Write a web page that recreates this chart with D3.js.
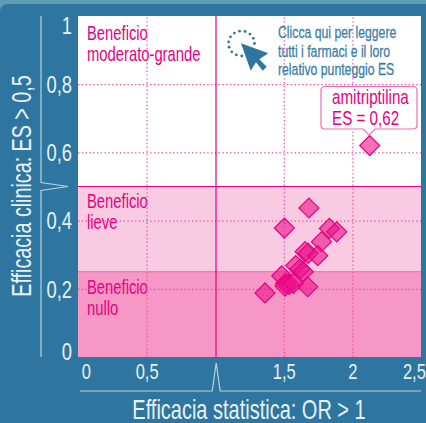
<!DOCTYPE html>
<html>
<head>
<meta charset="utf-8">
<script src="https://cdn.jsdelivr.net/npm/d3@7"></script>
<style>
  html, body { margin: 0; padding: 0; background: #5f9ab6; overflow: hidden; }
  svg { display: block; }
  text { font-family: "Liberation Sans", sans-serif; }
  .axis .domain { display: none; }
  .axis text { fill: #e8f1f5; font-size: 23px; }
  .grid line { stroke: #ee4fa5; stroke-width: 1.2; stroke-dasharray: 1.4 2.4; }
  .zone { fill: #e6007e; font-size: 20px; }
  .hint { fill: #3a7ea6; font-size: 17px; stroke: #3a7ea6; stroke-width: 0.3; }
</style>
</head>
<body>
<svg id="chart" width="426" height="423"></svg>
<script>
// Values
const xTicks = [0, 0.5, 1.5, 2, 2.5];
const yTicks = [0, 0.2, 0.4, 0.6, 0.8, 1];
const xGrid = [0.5, 1.5, 2];
const yGrid = [0.2, 0.4, 0.6, 0.8];
const drugOR = [1.683, 1.504, 1.832, 1.886, 1.774, 1.655, 1.678, 1.747, 1.587, 1.618, 1.642, 1.485, 1.674, 1.514, 1.540, 1.509, 1.570, 1.363, 2.126];
const drugES = [0.437, 0.378, 0.377, 0.367, 0.338, 0.309, 0.304, 0.297, 0.268, 0.258, 0.250, 0.238, 0.206, 0.216, 0.213, 0.208, 0.216, 0.188, 0.62];
const zoneFrom = [0.5, 0.25, 0];
const zoneTo = [1, 0.5, 0.25];
const zoneFill = ['#ffffff', '#f9cbe3', '#f797c6'];
const zoneLines = [['Beneficio', 'moderato-grande'], ['Beneficio', 'lieve'], ['Beneficio', 'nullo']];
const hintLines = ['Clicca qui per leggere', 'tutti i farmaci e il loro', 'relativo punteggio ES'];
const calloutLines = ['amitriptilina', 'ES = 0,62'];

const fmt = d => String(d).replace('.', ',');

// no condensed face is installed, so squeeze the glyphs
function narrow(sel, k) {
  sel.each(function() {
    const t = d3.select(this);
    const px = +t.attr('x') || 0;
    const py = +t.attr('y') || 0;
    const old = t.attr('transform') || '';
    t.attr('x', 0).attr('y', 0).attr('transform', `${old} translate(${px},${py}) scale(${k},1)`);
  });
  return sel;
}

const svg = d3.select('#chart');
const x = d3.scaleLinear().domain([0, 2.5]).range([78, 421]);
const y = d3.scaleLinear().domain([0, 1]).range([357, 16]);

// panel, only the top left corner is rounded
svg.append('rect').attr('x', 0).attr('y', 4).attr('width', 60).attr('height', 60).attr('rx', 8).attr('fill', '#2e769f');
svg.append('rect').attr('x', 20).attr('y', 4).attr('width', 406).attr('height', 419).attr('fill', '#2e769f');
svg.append('rect').attr('x', 0).attr('y', 20).attr('width', 426).attr('height', 403).attr('fill', '#2e769f');

// zones
svg.selectAll('.band').data(zoneFrom).enter().append('rect')
  .attr('class', 'band')
  .attr('x', x(0)).attr('width', x(2.5) - x(0))
  .attr('y', (d, i) => y(zoneTo[i]))
  .attr('height', (d, i) => y(d) - y(zoneTo[i]))
  .attr('fill', (d, i) => zoneFill[i]);

// zone labels
const zoneTop = [40, 208, 294];
zoneLines.forEach((lines, i) => {
  lines.forEach((t, j) => {
    narrow(svg.append('text').attr('class', 'zone').attr('x', 87).attr('y', zoneTop[i] + j * 21).text(t), 0.74);
  });
});

// dotted grid through the library axes
svg.append('g').attr('class', 'grid').attr('transform', `translate(0,${y(0)})`)
  .call(d3.axisBottom(x).tickValues(xGrid).tickSize(-(y(0) - y(1))).tickFormat(''))
  .select('.domain').remove();
svg.append('g').attr('class', 'grid').attr('transform', `translate(${x(0)},0)`)
  .call(d3.axisLeft(y).tickValues(yGrid).tickSize(-(x(2.5) - x(0))).tickFormat(''))
  .select('.domain').remove();

// zone limits
svg.append('line').attr('x1', x(0)).attr('x2', x(2.5)).attr('y1', y(0.5)).attr('y2', y(0.5)).attr('stroke', '#e6007e').attr('stroke-width', 1.2);
svg.append('line').attr('x1', x(0)).attr('x2', x(2.5)).attr('y1', y(0.25)).attr('y2', y(0.25)).attr('stroke', '#f06cb0').attr('stroke-width', 1);
svg.append('line').attr('x1', x(1) + 0.8).attr('x2', x(1) + 0.8).attr('y1', y(0)).attr('y2', y(1)).attr('stroke', '#e6007e').attr('stroke-width', 1.2);

// tick labels
const xLab = svg.append('g').attr('class', 'axis').attr('transform', `translate(0,${y(0)})`)
  .call(d3.axisBottom(x).tickValues(xTicks).tickSize(0).tickPadding(6).tickFormat(fmt));
xLab.selectAll('text').style('font-size', '22px').attr('dx', d => d === 0 ? 10.5 : d === 2.5 ? -9.5 : 0);
narrow(xLab.selectAll('text'), 0.75);
const yLab = svg.append('g').attr('class', 'axis').attr('transform', `translate(${x(0) - 6},0)`)
  .call(d3.axisLeft(y).tickValues(yTicks).tickSize(0).tickPadding(0).tickFormat(fmt));
yLab.selectAll('text').attr('dy', d => d === 1 ? '0.76em' : d === 0 ? '0.12em' : '0.36em');
narrow(yLab.selectAll('text'), 0.8);

// axis rules with the break marks
const rule = d3.line();
svg.append('path').attr('fill', 'none').attr('stroke', '#b7d2e0').attr('stroke-width', 1.2)
  .attr('d', rule([[41, y(1)], [41, y(0.5) - 4], [68, y(0.5)], [41, y(0.5) + 4], [41, y(0)]]));
svg.append('path').attr('fill', 'none').attr('stroke', '#b7d2e0').attr('stroke-width', 1.2)
  .attr('d', rule([[80, 391], [x(1) - 3, 391], [x(1) + 1, 363], [x(1) + 5, 391], [x(2.5), 391]]));

// axis titles
narrow(svg.append('text').attr('x', 249).attr('y', 419).attr('text-anchor', 'middle')
  .attr('fill', '#e8f1f5').attr('font-size', 27).text('Efficacia statistica: OR > 1'), 0.74);
narrow(svg.append('text').attr('transform', 'translate(31,186) rotate(-90)').attr('text-anchor', 'middle')
  .attr('fill', '#e8f1f5').attr('font-size', 27).text('Efficacia clinica: ES > 0,5'), 0.73);

// diamonds
const diamond = d3.symbol().type(d3.symbolSquare).size(200);
svg.selectAll('.drug').data(drugOR).enter().append('path')
  .attr('class', 'drug')
  .attr('d', diamond)
  .attr('transform', (d, i) => `translate(${x(d)},${y(drugES[i])}) rotate(45)`)
  .attr('fill', '#e9108a').attr('fill-opacity', 0.6)
  .attr('stroke', '#e6007e').attr('stroke-width', 1.2);

// hint: dotted ring and pointer
const ringDots = d3.range(0, 12);
svg.selectAll('.ring').data(ringDots).enter().append('circle')
  .attr('class', 'ring')
  .attr('cx', d => 241.5 + 13 * Math.cos(-d * 0.43))
  .attr('cy', d => 43.5 + 12.5 * Math.sin(-d * 0.43))
  .attr('r', 1.4).attr('fill', '#2e769f');
svg.append('path').attr('fill', '#2e769f')
  .attr('d', 'M241,43.3 L268.3,53.3 L259.3,59.3 L266.7,66.7 L262.7,70.7 L256,62.3 L250.7,70.7 Z');
hintLines.forEach((t, j) => {
  narrow(svg.append('text').attr('class', 'hint').attr('x', 278).attr('y', 38 + j * 18.5).text(t), 0.72);
});

// callout
svg.append('path').attr('fill', '#fff').attr('stroke', '#f06cb0').attr('stroke-width', 1.2)
  .attr('d', 'M325,86.5 H413 Q417,86.5 417,90.5 V125 Q417,129 413,129 H375 L369,135 L363,129 H325 Q321,129 321,125 V90.5 Q321,86.5 325,86.5 Z');
calloutLines.forEach((t, j) => {
  narrow(svg.append('text').attr('x', 332).attr('y', 104 + j * 20.5).attr('fill', '#e6007e').attr('font-size', 20).text(t), 0.76);
});
</script>
</body>
</html>
